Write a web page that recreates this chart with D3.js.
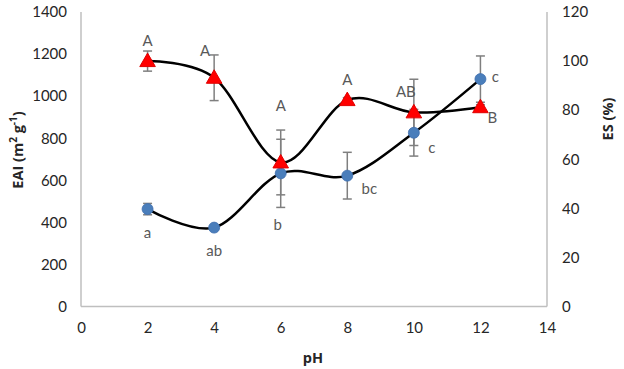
<!DOCTYPE html>
<html>
<head>
<meta charset="utf-8">
<script src="https://cdn.jsdelivr.net/npm/d3@7"></script>
<style>
  body { margin: 0; background: #fff; }
  svg text { font-family: Lato, "Open Sans", sans-serif; }
  svg text.title { font-family: "Open Sans", sans-serif; font-weight: bold; }
</style>
</head>
<body>
<svg id="chart" width="624" height="369"></svg>
<script>
// data
const ph = [2, 4, 6, 8, 10, 12];
const eai = [463, 375, 633, 622, 826, 1081];
const eaiErr = [27, 6, 162, 111, 111, 110];
const eaiLetters = ["a", "ab", "b", "bc", "c", "c"];
const es = [100.0, 93.2, 58.7, 84.1, 79.1, 81.2];
const esErr = [4.1, 9.3, 13.2, 1.0, 13.5, 1.0];
const esLetters = ["A", "A", "A", "A", "AB", "B"];
const xTicks = [0, 2, 4, 6, 8, 10, 12, 14];
const leftTicks = [0, 200, 400, 600, 800, 1000, 1200, 1400];
const rightTicks = [0, 20, 40, 60, 80, 100, 120];

const margin = { top: 12, right: 77, bottom: 62.5, left: 81 };
const W = 624, H = 369;
const svg = d3.select("#chart");
const g = svg.append("g").attr("transform", `translate(${margin.left},${margin.top})`);
const width = W - margin.left - margin.right;
const height = H - margin.top - margin.bottom;

const x = d3.scaleLinear().domain([0, 14]).range([0, width]);
const yL = d3.scaleLinear().domain([0, 1400]).range([height, 0]);
const yR = d3.scaleLinear().domain([0, 120]).range([height, 0]);

const axisColor = "#bfbfbf";
const tickColor = "#262626";
const fmt = d3.format("d");

// axes (no tick marks, only the lines)
const xAxis = g.append("g").attr("transform", `translate(0,${height})`)
    .call(d3.axisBottom(x).tickValues(xTicks).tickFormat(fmt).tickSize(0).tickPadding(16));
const leftAxis = g.append("g")
    .call(d3.axisLeft(yL).tickValues(leftTicks).tickFormat(fmt).tickSize(0).tickPadding(14));
const rightAxis = g.append("g").attr("transform", `translate(${width},0)`)
    .call(d3.axisRight(yR).tickValues(rightTicks).tickFormat(fmt).tickSize(0).tickPadding(15));
[xAxis, leftAxis, rightAxis].forEach(a => {
    a.select(".domain").attr("stroke", axisColor).attr("stroke-width", 1.5);
    a.selectAll("text").attr("fill", tickColor).style("font-size", "15px")
        .style("font-family", "Lato, sans-serif");
});
xAxis.select(".domain").attr("d", `M0,0H${width}`);
leftAxis.select(".domain").attr("d", `M0,0V${height}`);
rightAxis.select(".domain").attr("d", `M0,0V${height}`);

// axis titles
svg.append("text").attr("class", "title").attr("transform", "translate(23,150) rotate(-90)")
    .attr("text-anchor", "middle").attr("font-size", 14.5).attr("fill", tickColor)
    .html('EAI (m<tspan dy="-6" font-size="10">2</tspan><tspan dy="6"> g</tspan><tspan dy="-6" font-size="10">-1</tspan><tspan dy="6">)</tspan>');
svg.append("text").attr("class", "title").attr("transform", "translate(613,119) rotate(-90)")
    .attr("text-anchor", "middle").attr("font-size", 14.5).attr("fill", tickColor)
    .text("ES (%)");
svg.append("text").attr("class", "title").attr("x", 313).attr("y", 363)
    .attr("text-anchor", "middle").attr("font-size", 14.5).attr("fill", tickColor)
    .text("pH");

const eaiPts = ph.map((p, i) => ({ x: p, y: eai[i], e: eaiErr[i] }));
const esPts = ph.map((p, i) => ({ x: p, y: es[i], e: esErr[i] }));

const lineL = d3.line().x(d => x(d.x)).y(d => yL(d.y)).curve(d3.curveCatmullRom.alpha(0));
const lineR = d3.line().x(d => x(d.x)).y(d => yR(d.y)).curve(d3.curveCatmullRom.alpha(0));

g.append("path").datum(eaiPts).attr("d", lineL).attr("fill", "none").attr("stroke", "#000").attr("stroke-width", 2.5);
g.append("path").datum(esPts).attr("d", lineR).attr("fill", "none").attr("stroke", "#000").attr("stroke-width", 2.5);

function errorBars(pts, y) {
    const eb = g.append("g").attr("stroke", "#7f7f7f").attr("stroke-width", 1.5);
    pts.forEach(d => {
        const cx = x(d.x), t = y(d.y + d.e), b = y(d.y - d.e);
        eb.append("line").attr("x1", cx).attr("x2", cx).attr("y1", t).attr("y2", b);
        eb.append("line").attr("x1", cx - 4.5).attr("x2", cx + 4.5).attr("y1", t).attr("y2", t);
        eb.append("line").attr("x1", cx - 4.5).attr("x2", cx + 4.5).attr("y1", b).attr("y2", b);
    });
}
errorBars(eaiPts, yL);
errorBars(esPts, yR);

// markers
g.selectAll(".eai").data(eaiPts).join("circle").attr("class", "eai")
    .attr("cx", d => x(d.x)).attr("cy", d => yL(d.y)).attr("r", 5.5)
    .attr("fill", "#4a7ebb").attr("stroke", "#3f6fae").attr("stroke-width", 0.8);
const tri = d3.symbol().type(d3.symbolTriangle).size(105);
g.selectAll(".es").data(esPts).join("path").attr("class", "es")
    .attr("transform", d => `translate(${x(d.x)},${yR(d.y) + 1})`)
    .attr("d", tri).attr("fill", "#ff0000").attr("stroke", "#e00000").attr("stroke-width", 1);

// significance letters (offsets relative to marker)
const eaiOff = [[0, 24], [0, 23], [-3, 52], [22, 13], [18, 15], [15, -2]];
const esOff = [[0, -20], [-9, -27], [0, -56], [0, -20], [-8, -20], [12, 11]];
const lab = g.append("g").attr("fill", "#595959").attr("font-size", 15).attr("text-anchor", "middle");
eaiPts.forEach((d, i) => {
    lab.append("text").attr("x", x(d.x) + eaiOff[i][0]).attr("y", yL(d.y) + eaiOff[i][1] + 5).text(eaiLetters[i]);
});
esPts.forEach((d, i) => {
    lab.append("text").attr("x", x(d.x) + esOff[i][0]).attr("y", yR(d.y) + esOff[i][1] + 5).text(esLetters[i]);
});
</script>
</body>
</html>
